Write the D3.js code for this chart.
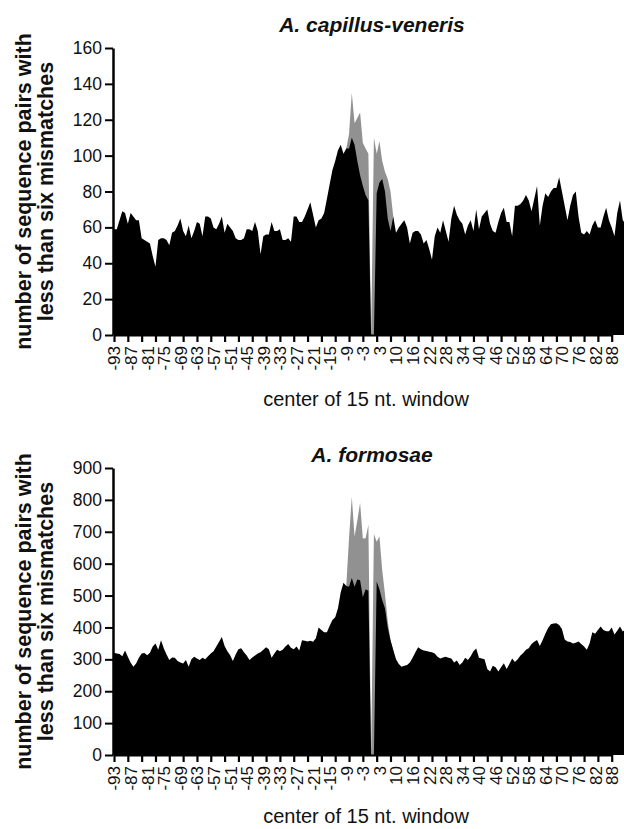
<!DOCTYPE html>
<html>
<head>
<meta charset="utf-8">
<script src="https://cdn.jsdelivr.net/npm/d3@7"></script>
<style>
  body { margin: 0; background: #fff; }
  svg { display: block; font-family: "Liberation Sans", Arial, sans-serif; }
</style>
</head>
<body>
<div id="chart"></div>
<script>

// window centres (categories), one value per position
const windowCenter = d3.range(-93, 94);
const tickLabels = ["-93","-87","-81","-75","-69","-63","-57","-51","-45","-39","-33","-27","-21","-15","-9",
                    "-3","3","10","16","22","28","34","40","46","52","58","64","70","76","82","88"];

// A. capillus-veneris
const capillusTicks = [0, 20, 40, 60, 80, 100, 120, 140, 160];
const capillusBlack = [
  59, 59, 64, 69, 68, 62, 68, 66, 64, 64,
  54, 53, 52, 51, 44, 38, 53, 54, 54, 53,
  50, 57, 58, 61, 65, 58, 55, 61, 54, 58,
  63, 62, 55, 66, 66, 65, 60, 59, 62, 66,
  57, 62, 60, 58, 54, 53, 53, 54, 59, 59,
  58, 63, 58, 45, 55, 56, 56, 63, 58, 58,
  59, 53, 53, 54, 52, 66, 66, 63, 63, 66,
  70, 74, 67, 60, 64, 65, 68, 76, 84, 92,
  97, 103, 106, 101, 104, 104, 110, 106, 97, 89,
  83, 78, 75, 0, 0, 79, 85, 87, 80, 65,
  58, 66, 57, 60, 62, 64, 60, 51, 57, 58,
  58, 56, 51, 53, 48, 42, 55, 60, 57, 64,
  58, 52, 65, 72, 67, 64, 62, 56, 61, 64,
  58, 70, 59, 66, 68, 70, 62, 58, 57, 63,
  68, 71, 63, 63, 55, 72, 72, 73, 75, 78,
  75, 69, 76, 83, 61, 72, 79, 77, 80, 82,
  82, 88, 80, 72, 64, 72, 78, 80, 66, 57,
  56, 58, 56, 61, 64, 60, 60, 66, 71, 64,
  60, 55, 68, 75, 64, 62, 60
];
// grey series, only where it rises above the black one (positions -9 .. 8)
const grayFrom = -9;
const capillusGray = [104, 112, 135, 118, 121, 124, 107, 104, 101, 0, 110, 101, 108, 97, 91, 87, 80, 66];

// A. formosae
const formosaeTicks = [0, 100, 200, 300, 400, 500, 600, 700, 800, 900];
const formosaeBlack = [
  321, 318, 317, 310, 328, 308, 290, 277, 287, 305,
  318, 320, 313, 321, 340, 350, 330, 360, 335, 315,
  298, 306, 305, 295, 290, 287, 298, 277, 300, 308,
  303, 298, 305, 300, 310, 318, 325, 340, 355, 370,
  342, 325, 313, 295, 315, 332, 335, 322, 312, 298,
  306, 312, 318, 322, 330, 338, 332, 305, 318, 330,
  325, 330, 340, 348, 336, 332, 340, 328, 360, 358,
  356, 358, 355, 366, 400, 392, 385, 385, 405, 423,
  432, 460, 510, 540, 530, 528, 555, 528, 550, 548,
  495, 520, 515, 0, 0, 544, 520, 485, 460, 400,
  360, 329, 300, 285, 277, 280, 282, 290, 305, 322,
  338, 332, 328, 326, 324, 322, 318, 308, 303, 306,
  308, 305, 303, 290, 296, 282, 290, 305, 298, 310,
  325, 334, 305, 303, 300, 270, 262, 280, 275, 262,
  275, 288, 270, 285, 303, 292, 300, 312, 320, 330,
  335, 348, 355, 361, 342, 360, 380, 398, 410, 412,
  413, 408, 395, 362, 356, 354, 350, 352, 356, 348,
  340, 330, 350, 385, 380, 392, 403, 392, 388, 388,
  400, 378, 390, 403, 387, 395, 390
];
const formosaeGray = [530, 680, 810, 685, 735, 790, 679, 680, 722, 0, 693, 669, 685, 580, 505, 420, 360, 329];

const width = 624, height = 829;

const svg = d3.select("#chart")
    .append("svg")
    .attr("width", width)
    .attr("height", height);

// shared x scale
const x = d3.scaleLinear()
    .domain([-93, 87])
    .range([114, 611.7]);

// Draw one panel
function drawPanel(opts) {
    const { title, titleY, xTitleY, top, bottom, ticks, black, gray } = opts;

    const y = d3.scaleLinear()
        .domain([0, d3.max(ticks)])
        .range([bottom, top]);

    const blackData = windowCenter.map((p, i) => ({ pos: p, v: black[i] }));
    const grayData = gray.map((v, i) => ({ pos: grayFrom + i, v: v }));

    const area = d3.area()
        .x(d => x(d.pos))
        .y0(y(0))
        .y1(d => y(d.v));

    const g = svg.append("g");

    g.append("path")
        .datum(grayData)
        .attr("fill", "#919191")
        .attr("d", area);

    g.append("path")
        .datum(blackData)
        .attr("fill", "#000")
        .attr("d", area);

    // Y axis
    const yAxis = g.append("g")
        .attr("transform", `translate(113, 0)`)
        .call(d3.axisLeft(y).tickValues(ticks).tickSize(8).tickSizeOuter(0).tickPadding(3));
    yAxis.select(".domain").attr("stroke", "#000").attr("stroke-width", 2.5);
    yAxis.selectAll(".tick line").attr("stroke", "#000").attr("stroke-width", 2);
    yAxis.selectAll("text")
        .attr("font-size", "17.5px")
        .attr("fill", "#111");

    // X axis: marks every 5 positions
    const xTicks = g.append("g")
        .attr("transform", `translate(0, ${bottom})`)
        .call(d3.axisBottom(x).tickValues(d3.range(-93, 94, 5)).tickFormat("").tickSize(7).tickSizeOuter(0));
    xTicks.select(".domain").attr("stroke", "#000").attr("stroke-width", 2);
    xTicks.selectAll(".tick line").attr("stroke", "#000").attr("stroke-width", 2.2);

    // X labels: every 6 positions
    const labelPos = windowCenter.filter((p, i) => i % 6 === 0 && i / 6 < tickLabels.length);
    const xLabels = g.append("g")
        .attr("transform", `translate(0, ${bottom})`)
        .call(d3.axisBottom(x).tickValues(labelPos).tickSize(0).tickFormat((d, i) => tickLabels[i]));
    xLabels.select(".domain").remove();
    xLabels.selectAll("text")
        .attr("font-size", "17px")
        .attr("fill", "#111")
        .attr("transform", "rotate(-90)")
        .attr("text-anchor", "end")
        .attr("x", -11)
        .attr("y", 0)
        .attr("dy", "0.35em");

    // Y title (two lines)
    const yMid = (top + bottom) / 2;
    [["number of sequence pairs with", 31], ["less than six mismatches", 53]].forEach(([t, bx]) => {
        g.append("text")
            .attr("transform", `translate(${bx}, ${yMid}) rotate(-90)`)
            .attr("text-anchor", "middle")
            .attr("font-size", "21.5px")
            .attr("font-weight", "bold")
            .attr("fill", "#111")
            .text(t);
    });

    // X title
    g.append("text")
        .attr("x", 366)
        .attr("y", xTitleY)
        .attr("text-anchor", "middle")
        .attr("font-size", "20px")
        .attr("fill", "#111")
        .text("center of 15 nt. window");

    // Panel title
    g.append("text")
        .attr("x", 372)
        .attr("y", titleY)
        .attr("text-anchor", "middle")
        .attr("font-size", "21px")
        .attr("font-weight", "bold")
        .attr("font-style", "italic")
        .attr("fill", "#111")
        .text(title);
}

drawPanel({ title: "A. capillus-veneris", titleY: 31.5, xTitleY: 406, top: 48, bottom: 335,
            ticks: capillusTicks, black: capillusBlack, gray: capillusGray });
drawPanel({ title: "A. formosae", titleY: 461.5, xTitleY: 823, top: 468, bottom: 755,
            ticks: formosaeTicks, black: formosaeBlack, gray: formosaeGray });

</script>
</body>
</html>
